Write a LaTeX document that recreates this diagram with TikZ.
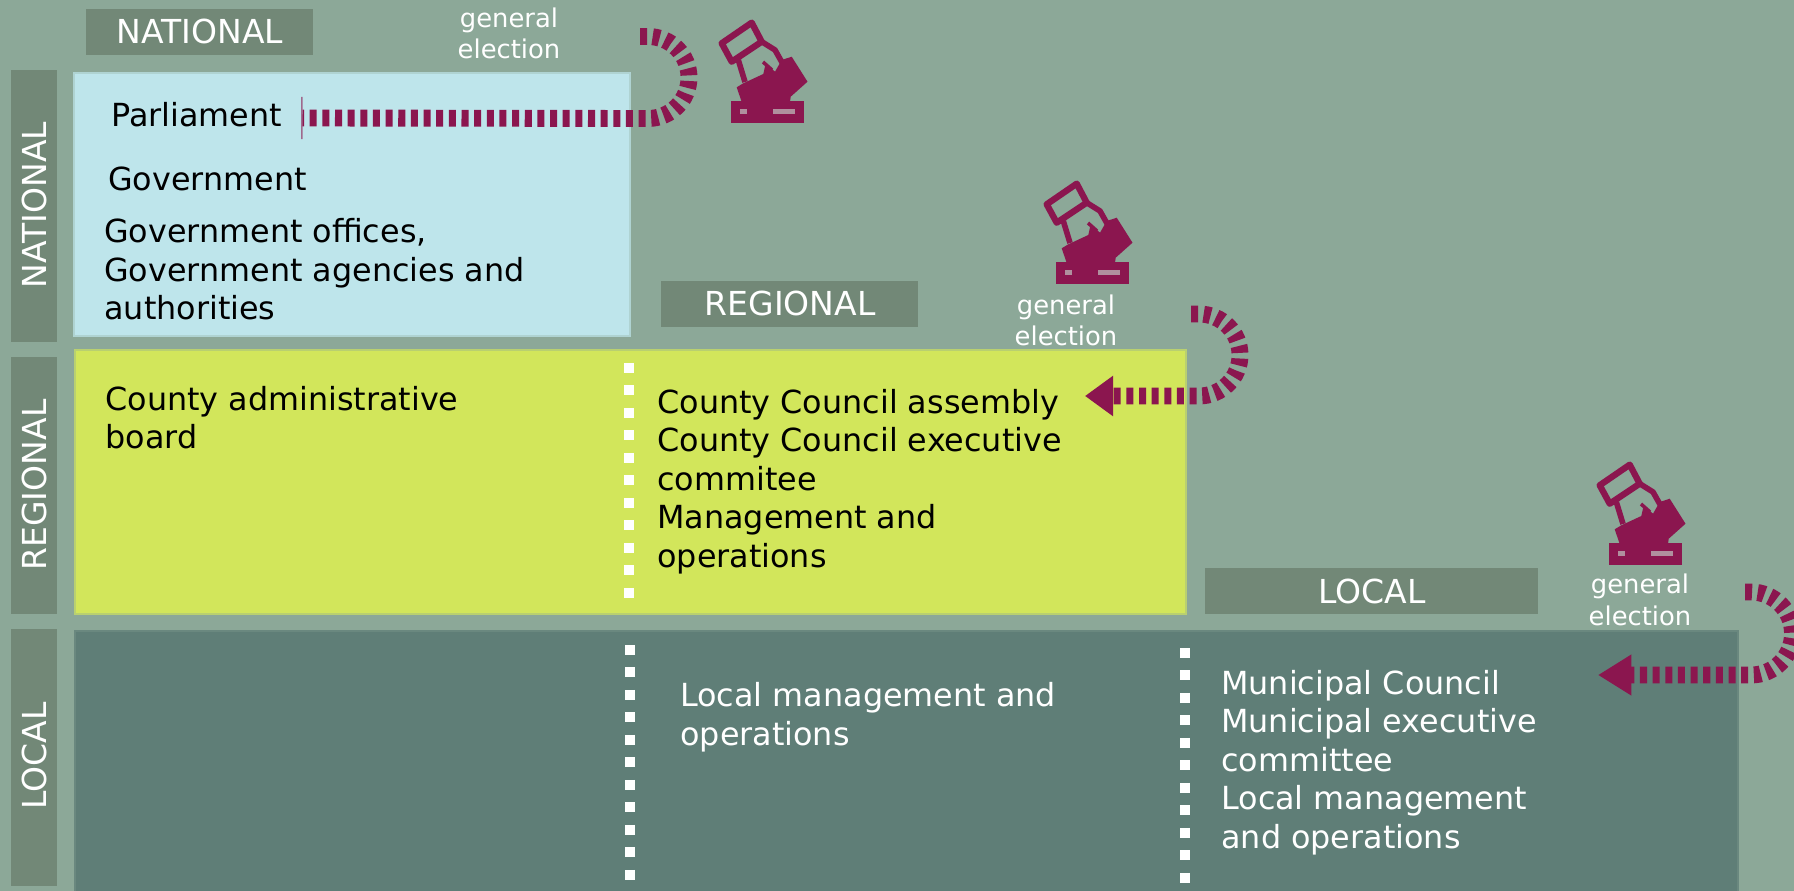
\documentclass[tikz,border=0pt]{standalone}
\usepackage{fontspec}
\setmainfont{DejaVu Sans}
\usetikzlibrary{arrows.meta}
\definecolor{bgcol}{HTML}{8CA898}
\definecolor{tabcol}{HTML}{728877}
\definecolor{natcol}{HTML}{BEE5EB}
\definecolor{regcol}{HTML}{D2E65B}
\definecolor{loccol}{HTML}{5F7E77}
\definecolor{votecol}{HTML}{8B164F}
\definecolor{holecol}{HTML}{B0909E}
\tikzset{
	tab/.style={fill=tabcol,draw=none},
	tabtext/.style={text=white,inner sep=0pt,font=\fontsize{18.8pt}{22pt}\selectfont},
	body/.style={inner sep=0pt,align=left,font=\fontsize{18.1pt}{21.9pt}\selectfont},
	votetext/.style={text=white,inner sep=0pt,align=center,font=\fontsize{14.7pt}{18.1pt}\selectfont},
	voteline/.style={draw=votecol,line width=9.6pt,dash pattern=on 4pt off 3.2pt},
	dotline/.style={draw=white,line width=5.6pt,line join=round,dash pattern=on 5.6pt off 7.2pt},
	votebox/.pic={
		\fill[votecol] (-1,-21) rectangle (72,1);
		\fill[holecol] (8,-13) rectangle (15,-8);
		\fill[holecol] (41,-13) rectangle (63,-8);
		\fill[votecol] (11.3,-38.7) -- (31.3,-48) -- (33.7,-58.7) -- (43,-50.3) -- (49.7,-62) -- (59.7,-65.3) -- (75.5,-40.3) -- (58.7,-25.3) -- (58,-20) -- (9.7,-20) -- (4.7,-34.7) -- cycle;
		\draw[votecol,line width=3.6pt,line join=round] (19.7,-99.3) -- (-10.3,-78.7) -- (-0.3,-60.3) -- (29.7,-80.3) -- cycle;
		\draw[votecol,line width=3.2pt,line join=round] (29.7,-80.3) -- (43,-72) -- (52,-56);
		\draw[votecol,line width=3.2pt,line join=round] (6.3,-62) -- (13,-40);
		\draw[votecol,line width=2pt] (31,-60) -- (40,-52);
	}
}
\begin{document}
\begin{tikzpicture}[x=0.02cm,y=-0.02cm]
	\useasboundingbox (0,0) rectangle (1794,891);
	\fill[bgcol] (0,0) rectangle (1794,891);
	% side tabs
	\fill[tab] (11,70) rectangle (57,342);
	\fill[tab] (11,357) rectangle (57,614);
	\fill[tab] (11,629) rectangle (57,886);
	\node[tabtext,rotate=90,anchor=base] (sidenat) at (46.5,205) {NATIONAL};
	\node[tabtext,rotate=90,anchor=base] (sidereg) at (46.5,485) {REGIONAL};
	\node[tabtext,rotate=90,anchor=base] (sideloc) at (46.5,756) {LOCAL};
	% level boxes
	\fill[fill=natcol,draw=natcol!70!bgcol,line width=1.6pt] (74,73) rectangle (630,336);
	\fill[fill=regcol,draw=regcol!65!bgcol,line width=1.6pt] (75,350) rectangle (1186,614);
	\fill[fill=loccol,draw=loccol!75!bgcol,line width=1.6pt] (75,631) rectangle (1738,900);
	% top tabs
	\fill[tab] (86,9) rectangle (313,55);
	\fill[tab] (661,281) rectangle (918,327);
	\fill[tab] (1205,568) rectangle (1538,614);
	\node[tabtext,anchor=base] (topnat) at (200,44) {NATIONAL};
	\node[tabtext,anchor=base] (topreg) at (790,316) {REGIONAL};
	\node[tabtext,anchor=base] (toploc) at (1372,603) {LOCAL};
	% national
	\node[body,anchor=base west] (parl) at (111,127) {Parliament};
	\node[body,anchor=base west] (gov) at (108,191) {Government};
	\node[body,anchor=base west] (offices) at (104,319.5) {Government offices,\\Government agencies and\\authorities};
	% regional
	\node[body,anchor=base west] (board) at (105,449) {County administrative\\board};
	\node[body,anchor=base west] (council) at (657,567) {County Council assembly\\County Council executive\\commitee\\Management and\\operations};
	% local
	\node[body,text=white,anchor=base west] (mgmt) at (680,745) {Local management and\\operations};
	\node[body,text=white,anchor=base west] (muni) at (1221,848) {Municipal Council\\Municipal executive\\committee\\Local management\\and operations};
	% dotted dividers
	\coordinate (dotaN) at (629,363);
	\coordinate (dotaS) at (629,600);
	\coordinate (dotbN) at (630,645);
	\coordinate (dotbS) at (630,891);
	\coordinate (dotcN) at (1185,648);
	\coordinate (dotcS) at (1185,891);
	\draw[dotline] (dotaN) -- (dotaS);
	\draw[dotline] (dotbN) -- (dotbS);
	\draw[dotline] (dotcN) -- (dotcS);
	% ballot icons and their labels
	\pic (votea) at (732,122) {votebox};
	\pic (voteb) at (1057,283) {votebox};
	\pic (votec) at (1610,564) {votebox};
	\node[votetext,anchor=base] (labela) at (509,59) {general\\election};
	\node[votetext,anchor=base] (labelb) at (1066,346) {general\\election};
	\node[votetext,anchor=base] (labelc) at (1640,625) {general\\election};
	% election arrows
	\coordinate (arcaT) at (640,36.5);
	\coordinate (arcbT) at (1191,314);
	\coordinate (arccT) at (1745,592);
	\coordinate (enda) at (300,118);
	\coordinate (endb) at (1079,396);
	\coordinate (endc) at (1592,675);
	\draw[voteline,-{Bar[width=24pt,line width=0.9pt,sep=0.6pt,color=votecol!60!natcol]}] (arcaT) -- ++(8,0) arc[start angle=-90,end angle=90,radius=41] -- (enda);
	\draw[voteline,-{Triangle[length=16pt,width=22pt,sep=3.4pt]}] (arcbT) -- ++(8,0) arc[start angle=-90,end angle=90,radius=41] -- (endb);
	\draw[voteline,-{Triangle[length=19pt,width=22pt,sep=3.4pt]}] (arccT) -- ++(6,0) arc[start angle=-90,end angle=90,radius=41.5] -- (endc);
\end{tikzpicture}
\end{document}
